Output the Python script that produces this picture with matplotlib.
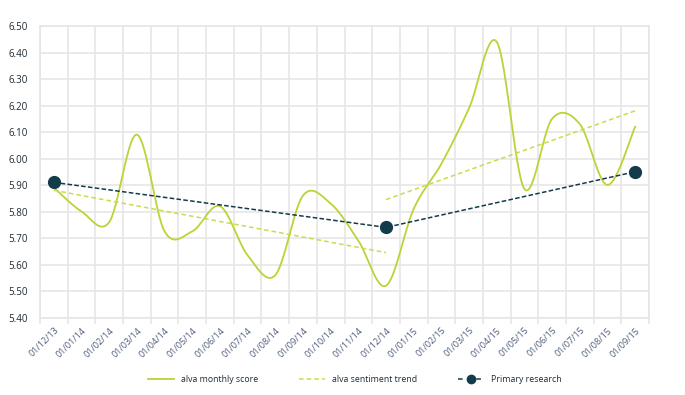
import numpy as np
import matplotlib
matplotlib.use("Agg")
import matplotlib.pyplot as plt
from matplotlib.lines import Line2D

plt.rcParams['font.family'] = ['Open Sans', 'DejaVu Sans']

# data
months = ["01/12/13", "01/01/14", "01/02/14", "01/03/14", "01/04/14", "01/05/14",
          "01/06/14", "01/07/14", "01/08/14", "01/09/14", "01/10/14", "01/11/14",
          "01/12/14", "01/01/15", "01/02/15", "01/03/15", "01/04/15", "01/05/15",
          "01/06/15", "01/07/15", "01/08/15", "01/09/15"]
monthly = [5.89, 5.80, 5.76, 6.09, 5.725, 5.725, 5.82, 5.635, 5.56, 5.86, 5.83,
           5.69, 5.52, 5.81, 5.98, 6.19, 6.44, 5.885, 6.15, 6.13, 5.90, 6.12]
trend1_idx = [0, 12]
trend1 = [5.88, 5.645]
trend2_idx = [12, 21]
trend2 = [5.845, 6.18]
research_idx = [0, 12, 21]
research = [5.91, 5.74, 5.95]

green = "#bfd137"
green_l = "#cadb4c"
navy = "#123c4a"
gridc = "#e6e6e6"


def smooth(xs, ys, n=30):
    # Excel-style bezier smoothing (control points from neighbours / 6)
    xs = np.asarray(xs, float)
    ys = np.asarray(ys, float)
    px = np.concatenate([[xs[0]], xs, [xs[-1]]])
    py = np.concatenate([[ys[0]], ys, [ys[-1]]])
    ox, oy = [], []
    t = np.linspace(0, 1, n)
    for i in range(1, len(px) - 2):
        p0 = np.array([px[i], py[i]])
        p3 = np.array([px[i + 1], py[i + 1]])
        c1 = p0 + (p3 - np.array([px[i - 1], py[i - 1]])) / 6
        c2 = p3 - (np.array([px[i + 2], py[i + 2]]) - p0) / 6
        b = ((1 - t) ** 3)[:, None] * p0 + (3 * (1 - t) ** 2 * t)[:, None] * c1 \
            + (3 * (1 - t) * t ** 2)[:, None] * c2 + (t ** 3)[:, None] * p3
        ox.extend(b[:, 0])
        oy.extend(b[:, 1])
    return ox, oy


fig = plt.figure(figsize=(6.85, 3.95), dpi=100)
ax = fig.add_axes([40 / 685, 1 - 317.5 / 395, 609 / 685, 291.5 / 395])

x = np.arange(len(months))
sx, sy = smooth(x, monthly)
ax.plot(sx, sy, color=green, lw=1.3, zorder=3)
ax.plot(trend1_idx, trend1, color=green_l, lw=1.1, ls=(0, (3, 2)), zorder=3)
ax.plot(trend2_idx, trend2, color=green_l, lw=1.1, ls=(0, (3, 2)), zorder=3)
ax.plot(research_idx, research, color=navy, lw=1.1, ls=(0, (3, 1.5)), zorder=4)
ax.plot(research_idx, research, 'o', color=navy, ms=8.5, zorder=5)

ax.set_xlim(-0.5, len(months) - 0.5)
ax.set_ylim(5.40, 6.50)
ax.set_yticks(np.arange(5.40, 6.501, 0.10))
ax.set_yticklabels(["%.2f" % v for v in np.arange(5.40, 6.501, 0.10)],
                   fontsize=7, color="#1d2b36")
ax.set_xticks(x)
ax.set_xticklabels(months, rotation=45, ha="right", rotation_mode="anchor",
                   fontsize=6.5, color="#4a5a78")
ax.set_xticks(np.arange(-0.5, len(months), 1), minor=True)
ax.tick_params(axis="x", which="major", length=0, pad=6)
ax.tick_params(axis="x", which="minor", length=4, color=gridc, width=1.2)
ax.tick_params(axis="y", length=0, pad=9)
ax.grid(True, axis="y", color=gridc, lw=1.2)
ax.grid(True, axis="x", which="minor", color=gridc, lw=1.2)
for s in ax.spines.values():
    s.set_color(gridc)
    s.set_linewidth(1.2)

handles = [
    Line2D([], [], color=green, lw=1.3),
    Line2D([], [], color=green_l, lw=1.1, ls=(0, (3, 2))),
    Line2D([], [], color=navy, lw=1.1, ls=(0, (3, 3)), marker='o', ms=6),
]
fig.legend(handles, ["alva monthly score", "alva sentiment trend", "Primary research"],
           loc="center", bbox_to_anchor=(0.518, 0.038), ncol=3, frameon=False,
           fontsize=6.3, handlelength=3.0, columnspacing=4.6, labelcolor="#1d2b36")

fig.savefig("out.png", dpi=100)
